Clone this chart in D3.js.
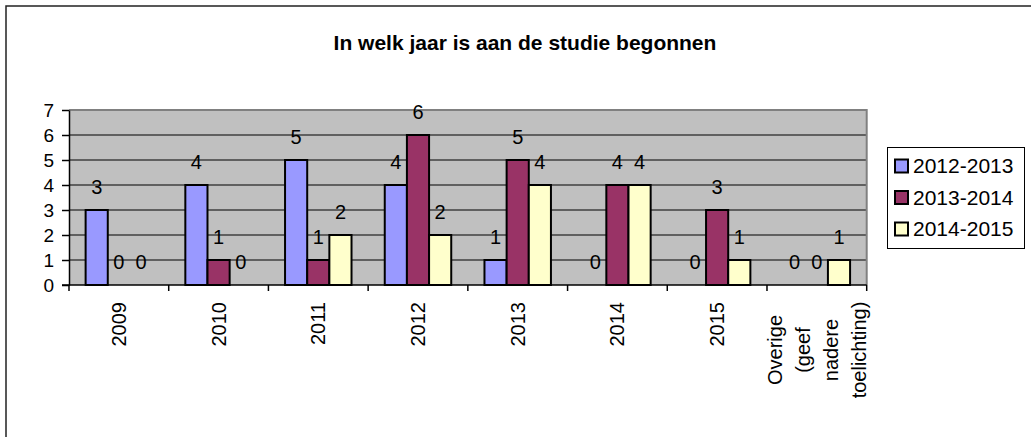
<!DOCTYPE html>
<html>
<head>
<meta charset="utf-8">
<script src="https://cdn.jsdelivr.net/npm/d3@7"></script>
<style>
  body { margin: 0; background: #fff; }
  text { font-family: Arial, "Liberation Sans", sans-serif; fill: #000; }
</style>
</head>
<body>
<svg></svg>
<script>
const size = {w: 1031, h: 437};
const plot = {l: 69, r: 866.7, t: 110, b: 285};

// data
const categories = ['2009', '2010', '2011', '2012', '2013', '2014', '2015', 'Overige (geef nadere toelichting)'];
const categoryLines = [['2009'], ['2010'], ['2011'], ['2012'], ['2013'], ['2014'], ['2015'],
    ['Overige', '(geef', 'nadere', 'toelichting)']];
const seriesNames = ['2012-2013', '2013-2014', '2014-2015'];
const seriesColors = ['#9999FF', '#993366', '#FFFFCC'];
const values2012 = [3, 4, 5, 4, 1, 0, 0, 0];
const values2013 = [0, 1, 1, 6, 5, 4, 3, 0];
const values2014 = [0, 0, 2, 2, 4, 4, 1, 1];
const yTicks = [0, 1, 2, 3, 4, 5, 6, 7];
const title = 'In welk jaar is aan de studie begonnen';

const seriesValues = [values2012, values2013, values2014];

const svg = d3.select('svg')
    .attr('width', size.w)
    .attr('height', size.h);

svg.append('rect')
    .attr('width', size.w).attr('height', size.h)
    .attr('fill', '#fff');

// outer chart frame (runs off the right / bottom edge)
svg.append('rect')
    .attr('x', 6).attr('y', 6)
    .attr('width', 1030).attr('height', 440)
    .attr('fill', 'none')
    .attr('stroke', '#222')
    .attr('stroke-width', 1.5);

svg.append('text')
    .attr('x', 525).attr('y', 50)
    .attr('text-anchor', 'middle')
    .style('font-size', '21px')
    .style('font-weight', 'bold')
    .text(title);

// scales
const x0 = d3.scaleBand()
    .domain(categories)
    .range([plot.l, plot.r])
    .padding(0);

const x1 = d3.scaleBand()
    .domain(seriesNames)
    .range([0, x0.bandwidth()])
    .paddingInner(0)
    .paddingOuter(0.75);

const y = d3.scaleLinear()
    .domain([0, 7])
    .range([plot.b, plot.t]);

// plot background
svg.append('rect')
    .attr('x', plot.l).attr('y', plot.t)
    .attr('width', plot.r - plot.l).attr('height', plot.b - plot.t)
    .attr('fill', '#C0C0C0');

// gridlines
svg.append('g').selectAll('line')
    .data(yTicks.filter(d => d > 0 && d < 7))
    .join('line')
    .attr('x1', plot.l).attr('x2', plot.r)
    .attr('y1', d => y(d)).attr('y2', d => y(d))
    .attr('stroke', '#000')
    .attr('stroke-width', 1);

// plot border top / right
svg.append('path')
    .attr('d', `M${plot.l},${plot.t}H${plot.r}V${plot.b}`)
    .attr('fill', 'none')
    .attr('stroke', '#808080')
    .attr('stroke-width', 2);

// bars
const barData = [];
categories.forEach((c, i) => {
    seriesNames.forEach((s, j) => {
        barData.push({cat: c, series: s, value: seriesValues[j][i], color: seriesColors[j]});
    });
});

const barsG = svg.append('g');
barsG.selectAll('rect')
    .data(barData.filter(d => d.value > 0))
    .join('rect')
    .attr('x', d => x0(d.cat) + x1(d.series))
    .attr('y', d => y(d.value))
    .attr('width', x1.bandwidth())
    .attr('height', d => y(0) - y(d.value))
    .attr('fill', d => d.color)
    .attr('stroke', '#000')
    .attr('stroke-width', 2);

// data labels
svg.append('g').selectAll('text')
    .data(barData)
    .join('text')
    .attr('x', d => x0(d.cat) + x1(d.series) + x1.bandwidth() / 2)
    .attr('y', d => y(d.value) - 16)
    .attr('text-anchor', 'middle')
    .style('font-size', '20px')
    .text(d => d.value);

// y axis
const yAxis = svg.append('g')
    .attr('transform', `translate(${plot.l},0)`)
    .call(d3.axisLeft(y).tickValues(yTicks).tickFormat(d3.format('d'))
        .tickSize(7).tickPadding(8).tickSizeOuter(0));
yAxis.select('.domain').attr('stroke', '#000').attr('stroke-width', 1.5);
yAxis.selectAll('.tick line').attr('stroke', '#000').attr('stroke-width', 1.5);
yAxis.selectAll('.tick text')
    .style('font-size', '19px')
    .style('font-family', 'Arial, "Liberation Sans", sans-serif')
    .attr('fill', '#000');

// x axis: ticks on category boundaries
const xAxisG = svg.append('g');
xAxisG.append('line')
    .attr('x1', plot.l - 7).attr('x2', plot.r)
    .attr('y1', plot.b).attr('y2', plot.b)
    .attr('stroke', '#000').attr('stroke-width', 1.5);
xAxisG.selectAll('line.tick')
    .data(categories.map(c => x0(c)).concat([plot.r]))
    .join('line')
    .attr('class', 'tick')
    .attr('x1', d => d).attr('x2', d => d)
    .attr('y1', plot.b).attr('y2', plot.b + 6)
    .attr('stroke', '#000').attr('stroke-width', 1.5);

// category labels, rotated
const catLabels = svg.append('g').selectAll('text')
    .data(categories.map((c, i) => ({cat: c, lines: categoryLines[i]})))
    .join('text')
    .style('font-size', '20px')
    .attr('text-anchor', d => d.lines.length > 1 ? 'middle' : 'end')
    .attr('transform', d => {
        const cx = x0(d.cat) + x0.bandwidth() / 2;
        const cy = d.lines.length > 1 ? 350 : 302;
        return `translate(${cx},${cy}) rotate(-90)`;
    });

catLabels.selectAll('tspan')
    .data(d => d.lines.map((l, k) => ({text: l, k: k, n: d.lines.length})))
    .join('tspan')
    .attr('x', 0)
    .attr('dy', d => d.k === 0 ? `${0.35 - (d.n - 1) * 0.7}em` : '1.4em')
    .text(d => d.text);

// legend
const legend = svg.append('g');
legend.append('rect')
    .attr('x', 887.5).attr('y', 147.5)
    .attr('width', 137).attr('height', 101)
    .attr('fill', '#fff')
    .attr('stroke', '#000')
    .attr('stroke-width', 1);

const legendY = d3.scalePoint()
    .domain(seriesNames)
    .range([166, 229]);

const items = legend.selectAll('g.item')
    .data(seriesNames)
    .join('g')
    .attr('class', 'item')
    .attr('transform', d => `translate(0,${legendY(d)})`);

items.append('rect')
    .attr('x', 895).attr('y', -6.5)
    .attr('width', 13).attr('height', 13)
    .attr('fill', (d, i) => seriesColors[i])
    .attr('stroke', '#000')
    .attr('stroke-width', 2);

items.append('text')
    .attr('x', 913)
    .attr('dy', '0.35em')
    .style('font-size', '21px')
    .text(d => d);
</script>
</body>
</html>
